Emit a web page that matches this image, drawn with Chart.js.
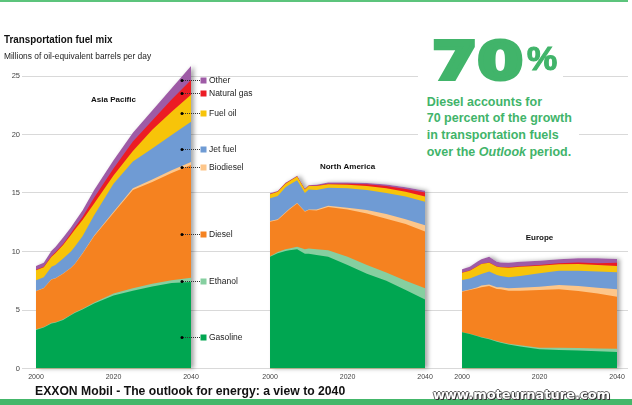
<!DOCTYPE html>
<html>
<head>
<meta charset="utf-8">
<script src="https://cdn.jsdelivr.net/npm/chart.js@4"></script>
<style>
html,body{margin:0;padding:0;background:#fff;}
#wrap{position:relative;width:632px;height:405px;overflow:hidden;font-family:"Liberation Sans",Arial,Helvetica,sans-serif;}
#c{position:absolute;left:0;top:0;width:632px;height:405px;}
.abs{position:absolute;white-space:nowrap;}
#topline{position:absolute;left:0;top:0;width:628px;height:2px;background:#5cc47c;}
#title{left:4px;top:34.3px;font-size:11.5px;line-height:11.5px;font-weight:bold;color:#111;transform:scaleX(0.853);transform-origin:0 0;}
#subtitle{left:4px;top:52.4px;font-size:8.4px;line-height:8.4px;color:#222;}
#bigbox{left:418px;top:33px;width:145px;height:50px;background:#fff;}
#num{position:absolute;left:14px;top:3.1px;font-family:"DejaVu Sans",sans-serif;font-weight:bold;font-size:51px;line-height:51px;color:#41b46a;
  -webkit-text-stroke:4px #41b46a;transform:scaleX(1.28);transform-origin:0 0;}
#pct{position:absolute;left:109px;top:8px;font-weight:bold;font-size:34px;line-height:34px;color:#41b46a;-webkit-text-stroke:1.2px #41b46a;}
#para{left:418px;top:93.5px;width:152px;padding-left:8.7px;background:#fff;font-size:12.5px;line-height:16.7px;font-weight:bold;color:#41b46a;}
#caption{left:35px;top:384.7px;font-size:12.2px;line-height:12.2px;font-weight:bold;color:#111;}
#band{position:absolute;left:0;top:399px;width:632px;height:6px;background:#44b76a;}
#url{left:433px;top:387.5px;font-family:"DejaVu Sans",sans-serif;font-weight:bold;font-size:13px;line-height:13px;color:#fff;
  text-shadow:1px 1px 0 #333,-1px 0 0 #666,1px 0 0 #666,0 -1px 0 #666,0 1px 0 #666;}
</style>
</head>
<body>
<div id="wrap">
  <canvas id="c" width="632" height="405"></canvas>
  <div id="topline"></div>
  <div id="title" class="abs">Transportation fuel mix</div>
  <div id="subtitle" class="abs">Millions of oil-equivalent barrels per day</div>
  <div id="bigbox" class="abs"><span id="num">70</span><span id="pct">%</span></div>
  <div id="para" class="abs">Diesel accounts for<br>70 percent of the growth<br>in transportation fuels<br>over the <i>Outlook</i> period.</div>
  <div id="band"></div>
  <div id="caption" class="abs">EXXON Mobil - The outlook for energy: a view to 2040</div>
  <div id="url" class="abs">www.moteurnature.com</div>
</div>
<script>
// ---------- DATA ----------
const years = [2000, 2002, 2004, 2005, 2007, 2009, 2010, 2012, 2015, 2020, 2025, 2030, 2035, 2040];
const fuels = ['Gasoline', 'Ethanol', 'Diesel', 'Biodiesel', 'Jet fuel', 'Fuel oil', 'Natural gas', 'Other'];
const regions = ['Asia Pacific', 'North America', 'Europe'];
const yTicks = [0, 5, 10, 15, 20, 25];
const xTickYears = [2000, 2020, 2040];

// Asia Pacific (millions of oil-equivalent barrels per day)
const apGasoline   = [3.3, 3.5, 3.85, 3.9, 4.15, 4.55, 4.75, 5.05, 5.55, 6.25, 6.65, 7.0, 7.3, 7.4];
const apEthanol    = [0.05, 0.05, 0.05, 0.05, 0.05, 0.05, 0.05, 0.05, 0.1, 0.15, 0.2, 0.25, 0.25, 0.35];
const apDiesel     = [3.25, 3.3, 3.7, 3.75, 3.9, 4.0, 4.1, 4.7, 5.65, 6.9, 8.4, 8.7, 9.15, 9.65];
const apBiodiesel  = [0.02, 0.02, 0.02, 0.02, 0.02, 0.02, 0.03, 0.04, 0.06, 0.1, 0.15, 0.2, 0.25, 0.25];
const apJetFuel    = [0.93, 0.93, 1.08, 1.13, 1.28, 1.38, 1.47, 1.46, 1.74, 2.4, 2.3, 2.65, 3.0, 3.45];
const apFuelOil    = [0.85, 0.85, 0.85, 1.0, 1.15, 1.4, 1.45, 1.4, 1.0, 0.7, 0.9, 1.6, 2.0, 2.3];
const apNaturalGas = [0.03, 0.05, 0.07, 0.08, 0.1, 0.15, 0.2, 0.25, 0.5, 0.6, 0.8, 0.8, 1.05, 1.25];
const apOther      = [0.33, 0.33, 0.45, 0.45, 0.55, 0.5, 0.5, 0.55, 0.65, 0.7, 0.75, 0.85, 0.95, 1.2];

// North America
const naGasoline   = [9.55, 9.85, 10.05, 10.1, 10.2, 9.8, 9.8, 9.7, 9.55, 8.85, 8.1, 7.5, 6.7, 5.9];
const naEthanol    = [0.05, 0.1, 0.15, 0.15, 0.2, 0.4, 0.45, 0.5, 0.55, 0.7, 0.75, 0.7, 0.8, 0.95];
const naDiesel     = [2.95, 2.75, 3.1, 3.35, 3.7, 3.2, 3.3, 3.3, 3.7, 4.05, 4.4, 4.6, 4.85, 4.85];
const naBiodiesel  = [0.05, 0.05, 0.05, 0.05, 0.05, 0.05, 0.05, 0.1, 0.1, 0.15, 0.3, 0.4, 0.4, 0.55];
const naJetFuel    = [1.95, 2.0, 2.15, 2.05, 1.95, 1.55, 1.7, 1.65, 1.55, 1.65, 1.7, 1.8, 1.95, 2.0];
const naFuelOil    = [0.35, 0.35, 0.3, 0.3, 0.3, 0.3, 0.3, 0.35, 0.3, 0.3, 0.35, 0.4, 0.4, 0.45];
const naNaturalGas = [0.02, 0.02, 0.02, 0.02, 0.02, 0.02, 0.02, 0.03, 0.05, 0.1, 0.15, 0.2, 0.25, 0.35];
const naOther      = [0.05, 0.05, 0.05, 0.05, 0.05, 0.05, 0.05, 0.07, 0.1, 0.1, 0.1, 0.12, 0.15, 0.15];

// Europe
const euGasoline   = [3.09, 2.95, 2.75, 2.66, 2.49, 2.28, 2.2, 2.05, 1.87, 1.64, 1.58, 1.53, 1.47, 1.41];
const euEthanol    = [0.01, 0.02, 0.03, 0.04, 0.05, 0.06, 0.06, 0.07, 0.11, 0.14, 0.19, 0.22, 0.25, 0.28];
const euDiesel     = [3.47, 3.73, 4.07, 4.24, 4.51, 4.46, 4.51, 4.53, 4.67, 4.92, 5.0, 4.87, 4.7, 4.45];
const euBiodiesel  = [0.03, 0.05, 0.1, 0.16, 0.14, 0.15, 0.17, 0.2, 0.25, 0.29, 0.37, 0.43, 0.48, 0.63];
const euJetFuel    = [0.96, 0.95, 1.0, 0.98, 1.09, 1.04, 0.96, 0.95, 1.0, 1.15, 1.22, 1.31, 1.38, 1.45];
const euFuelOil    = [0.63, 0.66, 0.8, 0.85, 0.76, 0.71, 0.75, 0.82, 0.8, 0.65, 0.54, 0.57, 0.56, 0.54];
const euNaturalGas = [0.01, 0.01, 0.01, 0.01, 0.01, 0.02, 0.02, 0.03, 0.04, 0.06, 0.1, 0.12, 0.16, 0.28];
const euOther      = [0.28, 0.33, 0.39, 0.39, 0.51, 0.41, 0.4, 0.39, 0.39, 0.37, 0.33, 0.37, 0.42, 0.32];

// ---------- STYLE / LAYOUT ----------
const fuelColors = ['#00a651', '#86cfa0', '#f58220', '#fdc68a', '#6f9bd4', '#f7c409', '#ec1c24', '#9e5ba6'];
const regionShift = [0, 60.39, 109.94];          // horizontal placement of each panel (in years)
const regionLabelLevel = [23.0, 17.2, 11.2];     // where the panel titles sit
const legendLevel = [2.69, 7.5, 11.47, 17.2, 18.74, 21.81, 23.52, 24.66];
const FONT = '"Liberation Sans", Arial, Helvetica, sans-serif';

const regionSeries = [
  [apGasoline, apEthanol, apDiesel, apBiodiesel, apJetFuel, apFuelOil, apNaturalGas, apOther],
  [naGasoline, naEthanol, naDiesel, naBiodiesel, naJetFuel, naFuelOil, naNaturalGas, naOther],
  [euGasoline, euEthanol, euDiesel, euBiodiesel, euJetFuel, euFuelOil, euNaturalGas, euOther]
];

const datasets = [];
regionSeries.forEach((series, r) => {
  series.forEach((vals, f) => {
    datasets.push({
      label: regions[r] + ' - ' + fuels[f],
      data: years.map((yr, i) => ({ x: yr - 2000 + regionShift[r], y: vals[i] })),
      backgroundColor: fuelColors[f],
      borderColor: fuelColors[f],
      borderWidth: 0,
      pointRadius: 0,
      pointHoverRadius: 0,
      fill: 'origin',
      stack: 'region' + r,
      tension: 0
    });
  });
});

const shadowPlugin = {
  id: 'panelShadow',
  beforeDatasetsDraw(chart) {
    const ctx = chart.ctx;
    const base = chart.scales.y.getPixelForValue(0);
    for (let r = 0; r < regions.length; r++) {
      const pts = chart.getDatasetMeta(r * fuels.length + fuels.length - 1).data;
      ctx.save();
      ctx.beginPath();
      ctx.moveTo(pts[0].x, base);
      pts.forEach(p => ctx.lineTo(p.x, p.y));
      ctx.lineTo(pts[pts.length - 1].x, base);
      ctx.closePath();
      ctx.shadowColor = 'rgba(0,0,0,0.35)';
      ctx.shadowBlur = 4;
      ctx.shadowOffsetX = 3;
      ctx.fillStyle = '#ffffff';
      ctx.fill();
      ctx.restore();
    }
  }
};

const annotPlugin = {
  id: 'annotations',
  afterDatasetsDraw(chart) {
    const ctx = chart.ctx;
    const xs = chart.scales.x, ys = chart.scales.y;
    ctx.save();
    ctx.font = 'bold 8px ' + FONT;
    ctx.fillStyle = '#111';
    ctx.textAlign = 'center';
    ctx.textBaseline = 'middle';
    regions.forEach((name, r) => {
      ctx.fillText(name, xs.getPixelForValue(20 + regionShift[r]), ys.getPixelForValue(regionLabelLevel[r]));
    });
    const edge = xs.getPixelForValue(40 + regionShift[0]);
    ctx.font = '8.5px ' + FONT;
    ctx.textAlign = 'left';
    fuels.forEach((name, f) => {
      const py = Math.round(ys.getPixelForValue(legendLevel[f])) + 0.5;
      ctx.strokeStyle = '#333';
      ctx.lineWidth = 1;
      ctx.setLineDash([1, 1]);
      ctx.beginPath();
      ctx.moveTo(edge - 8, py);
      ctx.lineTo(edge + 9, py);
      ctx.stroke();
      ctx.setLineDash([]);
      ctx.fillStyle = '#000';
      ctx.beginPath();
      ctx.arc(edge - 9, py, 1.5, 0, Math.PI * 2);
      ctx.fill();
      ctx.fillStyle = fuelColors[f];
      ctx.fillRect(edge + 9.5, py - 3, 6, 6);
      ctx.fillStyle = '#222';
      ctx.fillText(name, edge + 18, py);
    });
    ctx.restore();
  }
};

new Chart(document.getElementById('c'), {
  type: 'line',
  data: { datasets },
  options: {
    responsive: false,
    devicePixelRatio: 1,
    animation: false,
    events: [],
    layout: { padding: { left: 0, right: 4, top: 52.6, bottom: 20.5 } },
    plugins: { legend: { display: false }, tooltip: { enabled: false }, title: { display: false } },
    scales: {
      x: {
        type: 'linear',
        min: -3.613,
        max: 152.77,
        grid: { display: false, drawTicks: false },
        border: { display: false },
        afterBuildTicks: s => {
          s.ticks = [];
          regionShift.forEach(sh => xTickYears.forEach(yr => s.ticks.push({ value: yr - 2000 + sh })));
        },
        afterFit: s => { s.height = 16; },
        ticks: {
          autoSkip: false, maxRotation: 0, padding: 4,
          color: '#444', font: { size: 7, family: FONT },
          callback: v => {
            for (let r = regionShift.length - 1; r >= 0; r--) {
              if (v >= regionShift[r] - 0.01) return String(2000 + Math.round(v - regionShift[r]));
            }
            return '';
          }
        }
      },
      y: {
        stacked: true,
        min: 0,
        max: 27,
        afterBuildTicks: s => { s.ticks = yTicks.map(v => ({ value: v })); },
        afterFit: s => { s.width = 22; },
        grid: { color: '#d9d9d9', lineWidth: 1, drawTicks: false },
        border: { display: false },
        ticks: { padding: 2, color: '#444', font: { size: 7.5, family: FONT } }
      }
    }
  },
  plugins: [shadowPlugin, annotPlugin]
});
</script>
</body>
</html>
